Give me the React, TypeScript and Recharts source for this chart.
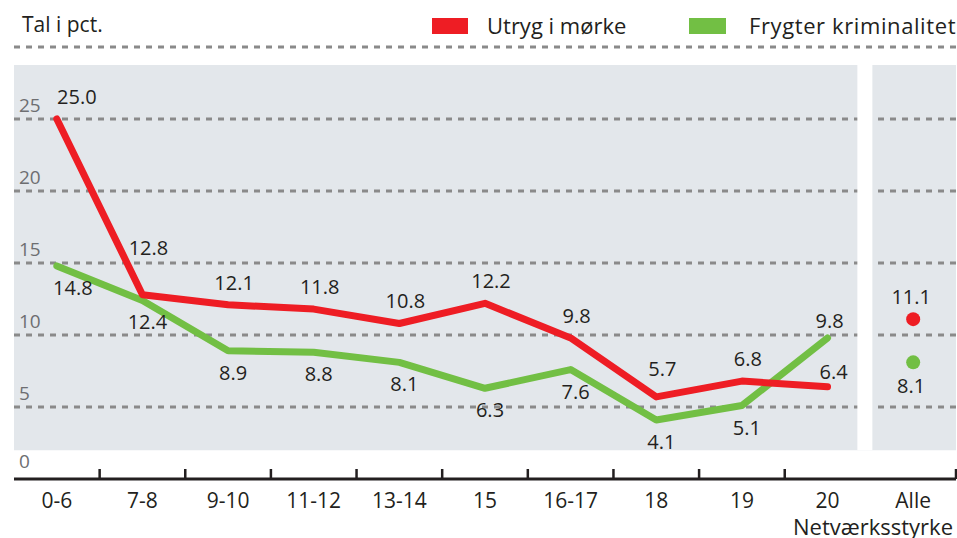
import { ComposedChart, LabelList, Line, ReferenceArea, ReferenceLine, XAxis, YAxis } from "recharts";

const categories = ["0-6", "7-8", "9-10", "11-12", "13-14", "15", "16-17", "18", "19", "20", "Alle"];
const utrygIMorke = [25.0, 12.8, 12.1, 11.8, 10.8, 12.2, 9.8, 5.7, 6.8, 6.4];
const frygterKriminalitet = [14.8, 12.4, 8.9, 8.8, 8.1, 6.3, 7.6, 4.1, 5.1, 9.8];
const alleUtryg = 11.1;
const alleFrygter = 8.1;
const yTicks = [0, 5, 10, 15, 20, 25];
const gridValues = [5, 10, 15, 20, 25, 30];

const RED = "#ee1d24";
const GREEN = "#72bf44";
const INK = "#231f20";
const FONT = "'Open Sans', sans-serif";

const data = categories.map((cat, i) => ({
  cat,
  utryg: cat === "Alle" ? null : utrygIMorke[i],
  frygter: cat === "Alle" ? null : frygterKriminalitet[i],
  alleU: cat === "Alle" ? alleUtryg : null,
  alleF: cat === "Alle" ? alleFrygter : null,
}));

const fmt = (v: number) => v.toFixed(1);

// red labels sit above the line, a few get nudged so they clear it
const RedLabel = (props: any) => {
  const { x, y, value, index } = props;
  if (value == null) return null;
  let dx = 6;
  let dy = -15;
  if (index === 0) dx = 20;
  if (index === 1) dy = -40;
  if (index === 7) dy = -21;
  if (index === 9) dy = -8;
  return (
    <text x={x + dx} y={y + dy} textAnchor="middle" fill={INK} fontSize={20}>
      {fmt(value)}
    </text>
  );
};

// green labels go below, except the last one
const GreenLabel = (props: any) => {
  const { x, y, value, index } = props;
  if (value == null) return null;
  let dx = 5;
  let dy = 29;
  if (index === 0) dx = 16;
  if (index === 9) {
    dx = 2;
    dy = -10;
  }
  return (
    <text x={x + dx} y={y + dy} textAnchor="middle" fill={INK} fontSize={20}>
      {fmt(value)}
    </text>
  );
};

const AlleLabel = (below: boolean) => (props: any) => {
  const { x, y, value } = props;
  if (value == null) return null;
  return (
    <text x={x - 2} y={below ? y + 31 : y - 15} textAnchor="middle" fill={INK} fontSize={20}>
      {fmt(value)}
    </text>
  );
};

const YTick = (props: any) => {
  const { y, payload } = props;
  return (
    <text x={19} y={payload.value === 0 ? y - 11 : y - 7} fill="#6d6e71" fontSize={19}>
      {payload.value}
    </text>
  );
};

const XTick = (props: any) => {
  const { x, y, payload, index } = props;
  const half = payload.offset || 42.8;
  return (
    <g>
      {index !== 9 && (
        <line x1={x + half} x2={x + half} y1={y} y2={y - 10} stroke={INK} strokeWidth={2.5} />
      )}
      <text x={x} y={y + 29} textAnchor="middle" fill={INK} fontSize={21}>
        {payload.value}
      </text>
    </g>
  );
};

const GapShape = (p: any) => (
  <rect
    x={p.x1 - 13}
    y={Math.min(p.y1, p.y2)}
    width={15}
    height={Math.abs(p.y2 - p.y1)}
    fill="#ffffff"
  />
);

export default function App() {
  return (
    <div style={{ position: "absolute", left: 0, top: 0, width: 957, height: 538, fontFamily: FONT, background: "#fff" }}>
      <div style={{ position: "absolute", left: 22, top: 10, fontSize: 21, color: INK, lineHeight: "normal", whiteSpace: "nowrap" }}>
        Tal i pct.
      </div>
      <div style={{ position: "absolute", left: 432, top: 18, width: 36, height: 16, background: RED }} />
      <div style={{ position: "absolute", left: 487, top: 10, fontSize: 22, color: INK, lineHeight: "normal", whiteSpace: "nowrap" }}>
        Utryg i mørke
      </div>
      <div style={{ position: "absolute", left: 689, top: 18, width: 37, height: 16, background: GREEN }} />
      <div
        style={{
          position: "absolute",
          left: 749,
          top: 10,
          fontSize: 22,
          color: INK,
          lineHeight: "normal",
          whiteSpace: "nowrap",
          letterSpacing: 0.6,
        }}
      >
        Frygter kriminalitet
      </div>
      <ComposedChart
        width={957}
        height={538}
        data={data}
        margin={{ top: 47, right: 1, bottom: 0, left: 13 }}
        style={{ position: "absolute", left: 0, top: 0 }}
      >
        <XAxis
          dataKey="cat"
          scale="band"
          height={59}
          tickLine={false}
          tickSize={0}
          tickMargin={0}
          axisLine={{ stroke: INK, strokeWidth: 3 }}
          tick={<XTick />}
          interval={0}
          label={{ value: "Netværksstyrke", position: "insideBottomRight", offset: 3, fill: INK, fontSize: 22 }}
        />
        <YAxis
          width={1}
          domain={[0, 30]}
          ticks={yTicks}
          axisLine={false}
          tickLine={false}
          tick={<YTick />}
        />
        <ReferenceArea x1="0-6" x2="Alle" y1={2} y2={28.75} fill="#e3e7eb" fillOpacity={1} stroke="none" />
        {gridValues.map((v) => (
          <ReferenceLine key={v} y={v} stroke="#8a8a8a" strokeWidth={3} strokeDasharray="6 6" />
        ))}
        <ReferenceLine
          segment={[
            { x: "Alle", y: 2 },
            { x: "Alle", y: 28.75 },
          ]}
          position="start"
          shape={GapShape}
        />
        <Line
          dataKey="frygter"
          stroke={GREEN}
          strokeWidth={7}
          strokeLinecap="round"
          strokeLinejoin="round"
          dot={false}
          isAnimationActive={false}
        >
          <LabelList dataKey="frygter" content={GreenLabel} />
        </Line>
        <Line
          dataKey="utryg"
          stroke={RED}
          strokeWidth={7}
          strokeLinecap="round"
          strokeLinejoin="round"
          dot={false}
          isAnimationActive={false}
        >
          <LabelList dataKey="utryg" content={RedLabel} />
        </Line>
        <Line
          dataKey="alleU"
          stroke="none"
          dot={{ r: 7, fill: RED, stroke: "none" }}
          isAnimationActive={false}
        >
          <LabelList dataKey="alleU" content={AlleLabel(false)} />
        </Line>
        <Line
          dataKey="alleF"
          stroke="none"
          dot={{ r: 7, fill: GREEN, stroke: "none" }}
          isAnimationActive={false}
        >
          <LabelList dataKey="alleF" content={AlleLabel(true)} />
        </Line>
      </ComposedChart>
    </div>
  );
}
